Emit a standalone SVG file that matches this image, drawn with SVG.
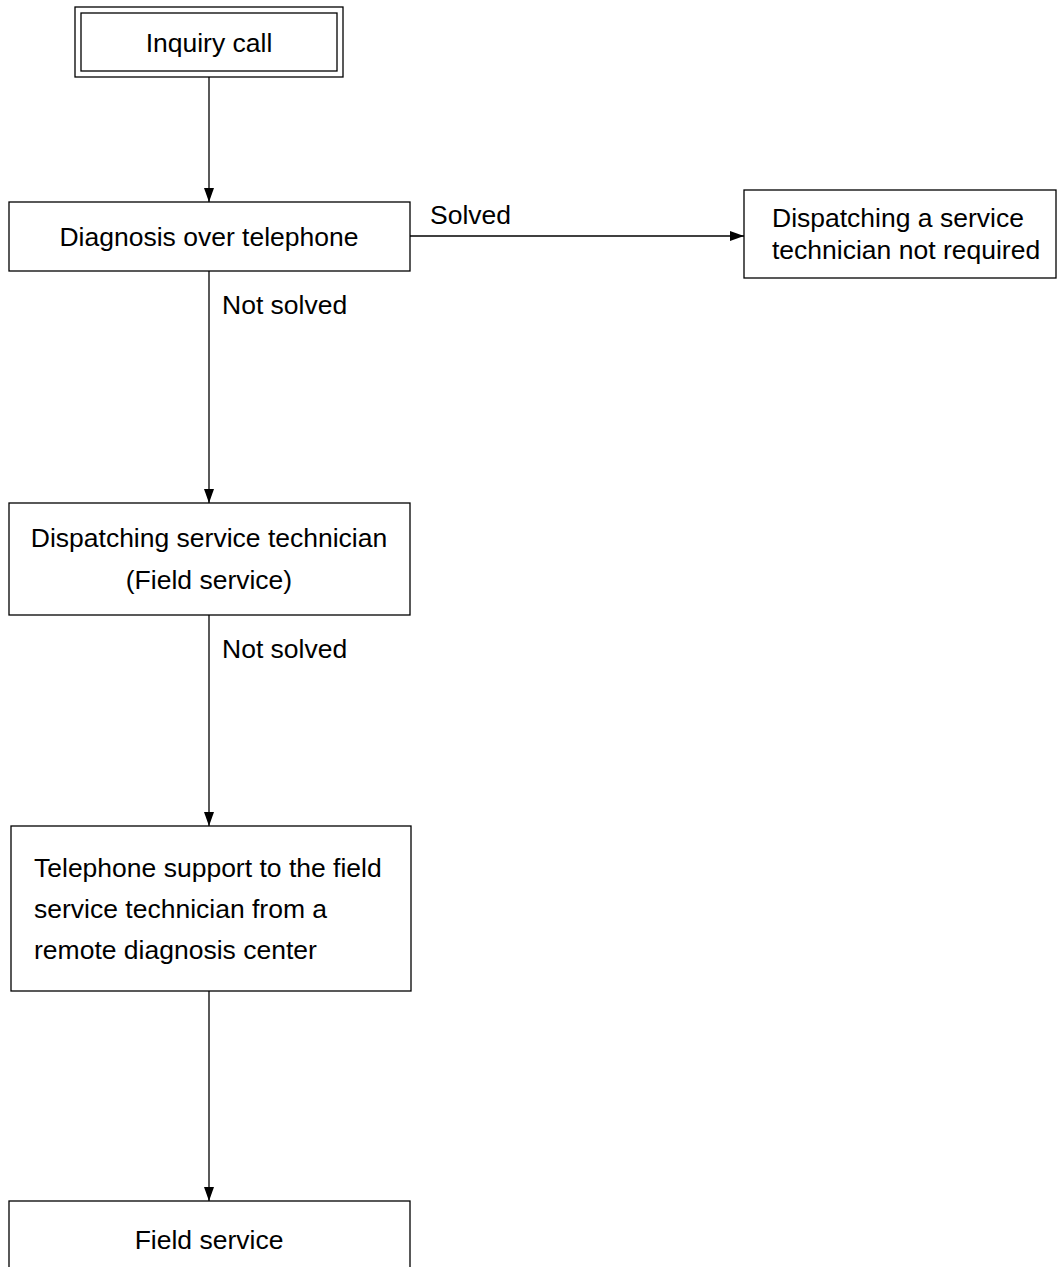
<svg xmlns="http://www.w3.org/2000/svg" width="1058" height="1267" viewBox="0 0 1058 1267">
<style>
.box{fill:#fff;stroke:#000;stroke-width:1.3}
.t{font-family:"Liberation Sans",Arial,sans-serif;font-size:26.5px;fill:#000}
.c{text-anchor:middle}
.edge{stroke:#000;stroke-width:1.3;fill:none}
</style>
<defs>
<marker id="arr" markerWidth="14" markerHeight="10" refX="14" refY="5" orient="auto" markerUnits="userSpaceOnUse">
<path d="M0,0 L14,5 L0,10 z" fill="#000"/>
</marker>
</defs>
<g id="connectors">
<line class="edge" x1="209" y1="77" x2="209" y2="202" marker-end="url(#arr)"/>
<line class="edge" x1="410" y1="236" x2="744" y2="236" marker-end="url(#arr)"/>
<line class="edge" x1="209" y1="271" x2="209" y2="503" marker-end="url(#arr)"/>
<line class="edge" x1="209" y1="615" x2="209" y2="826" marker-end="url(#arr)"/>
<line class="edge" x1="209" y1="991" x2="209" y2="1201" marker-end="url(#arr)"/>
<text class="t" x="430" y="224">Solved</text>
<text class="t" x="222" y="314">Not solved</text>
<text class="t" x="222" y="658">Not solved</text>
</g>
<g id="inquiry">
<rect class="box" x="75" y="7" width="268" height="70"/>
<rect class="box" x="81" y="13" width="256" height="58"/>
<text class="t c" x="209" y="52">Inquiry call</text>
</g>
<g id="diagnosis">
<rect class="box" x="9" y="202" width="401" height="69"/>
<text class="t c" x="209" y="246">Diagnosis over telephone</text>
</g>
<g id="notrequired">
<rect class="box" x="744" y="190" width="312" height="88"/>
<text class="t" x="772" y="227">Dispatching a service</text>
<text class="t" x="772" y="259">technician not required</text>
</g>
<g id="dispatching">
<rect class="box" x="9" y="503" width="401" height="112"/>
<text class="t c" x="209" y="547">Dispatching service technician</text>
<text class="t c" x="209" y="589">(Field service)</text>
</g>
<g id="telsupport">
<rect class="box" x="11" y="826" width="400" height="165"/>
<text class="t" x="34" y="877">Telephone support to the field</text>
<text class="t" x="34" y="918">service technician from a</text>
<text class="t" x="34" y="959">remote diagnosis center</text>
</g>
<g id="fieldservice">
<rect class="box" x="9" y="1201" width="401" height="80"/>
<text class="t c" x="209" y="1249">Field service</text>
</g>
</svg>
